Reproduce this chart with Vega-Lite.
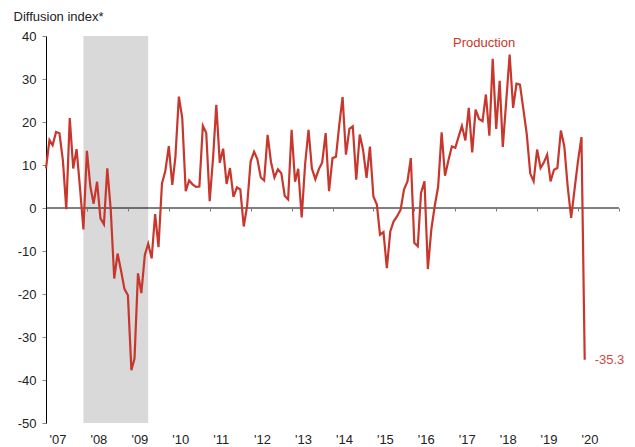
{
  "$schema": "https://vega.github.io/schema/vega-lite/v6.json",
  "width": 573,
  "height": 387,
  "autosize": {"type": "none"},
  "padding": {"left": 46, "top": 36, "right": 16, "bottom": 24},
  "config": {
    "view": {"stroke": null},
    "font": "Liberation Sans",
    "locale": {"number": {"decimal": ".", "thousands": ",", "grouping": [3], "currency": ["$", ""], "minus": "-"}},
    "axis": {"labelFont": "Liberation Sans", "titleFont": "Liberation Sans"},
    "text": {"font": "Liberation Sans"}
  },
  "datasets": {
    "recession": [{"start": "2007-12-01", "end": "2009-07-01"}],
    "prod": [
      {"date": "2007-01-01", "value": 9.2}, {"date": "2007-02-01", "value": 15.8}, {"date": "2007-03-01", "value": 14.6}, {"date": "2007-04-01", "value": 17.7},
      {"date": "2007-05-01", "value": 17.4}, {"date": "2007-06-01", "value": 11.0}, {"date": "2007-07-01", "value": -0.3}, {"date": "2007-08-01", "value": 20.9},
      {"date": "2007-09-01", "value": 9.2}, {"date": "2007-10-01", "value": 13.7}, {"date": "2007-11-01", "value": 4.5}, {"date": "2007-12-01", "value": -5.0},
      {"date": "2008-01-01", "value": 13.3}, {"date": "2008-02-01", "value": 5.0}, {"date": "2008-03-01", "value": 1.0}, {"date": "2008-04-01", "value": 6.1},
      {"date": "2008-05-01", "value": -2.4}, {"date": "2008-06-01", "value": -3.8}, {"date": "2008-07-01", "value": 9.2}, {"date": "2008-08-01", "value": -0.5},
      {"date": "2008-09-01", "value": -16.4}, {"date": "2008-10-01", "value": -10.6}, {"date": "2008-11-01", "value": -14.6}, {"date": "2008-12-01", "value": -18.8},
      {"date": "2009-01-01", "value": -20.3}, {"date": "2009-02-01", "value": -37.7}, {"date": "2009-03-01", "value": -35.0}, {"date": "2009-04-01", "value": -15.2},
      {"date": "2009-05-01", "value": -19.8}, {"date": "2009-06-01", "value": -10.9}, {"date": "2009-07-01", "value": -8.3}, {"date": "2009-08-01", "value": -11.7},
      {"date": "2009-09-01", "value": -1.4}, {"date": "2009-10-01", "value": -9.1}, {"date": "2009-11-01", "value": 5.7}, {"date": "2009-12-01", "value": 8.6},
      {"date": "2010-01-01", "value": 14.4}, {"date": "2010-02-01", "value": 5.4}, {"date": "2010-03-01", "value": 11.9}, {"date": "2010-04-01", "value": 25.9},
      {"date": "2010-05-01", "value": 20.9}, {"date": "2010-06-01", "value": 3.9}, {"date": "2010-07-01", "value": 6.4}, {"date": "2010-08-01", "value": 5.5},
      {"date": "2010-09-01", "value": 4.9}, {"date": "2010-10-01", "value": 5.0}, {"date": "2010-11-01", "value": 19.1}, {"date": "2010-12-01", "value": 17.5},
      {"date": "2011-01-01", "value": 1.6}, {"date": "2011-02-01", "value": 12.0}, {"date": "2011-03-01", "value": 24.0}, {"date": "2011-04-01", "value": 10.5},
      {"date": "2011-05-01", "value": 13.8}, {"date": "2011-06-01", "value": 5.6}, {"date": "2011-07-01", "value": 9.3}, {"date": "2011-08-01", "value": 2.6},
      {"date": "2011-09-01", "value": 4.8}, {"date": "2011-10-01", "value": 4.3}, {"date": "2011-11-01", "value": -4.3}, {"date": "2011-12-01", "value": 0.5},
      {"date": "2012-01-01", "value": 10.8}, {"date": "2012-02-01", "value": 13.1}, {"date": "2012-03-01", "value": 11.4}, {"date": "2012-04-01", "value": 7.1},
      {"date": "2012-05-01", "value": 6.4}, {"date": "2012-06-01", "value": 17.0}, {"date": "2012-07-01", "value": 10.7}, {"date": "2012-08-01", "value": 7.1},
      {"date": "2012-09-01", "value": 9.0}, {"date": "2012-10-01", "value": 8.1}, {"date": "2012-11-01", "value": 2.8}, {"date": "2012-12-01", "value": 2.0},
      {"date": "2013-01-01", "value": 18.2}, {"date": "2013-02-01", "value": 6.1}, {"date": "2013-03-01", "value": 9.1}, {"date": "2013-04-01", "value": -2.2},
      {"date": "2013-05-01", "value": 10.0}, {"date": "2013-06-01", "value": 18.2}, {"date": "2013-07-01", "value": 9.2}, {"date": "2013-08-01", "value": 6.7},
      {"date": "2013-09-01", "value": 9.0}, {"date": "2013-10-01", "value": 10.6}, {"date": "2013-11-01", "value": 17.4}, {"date": "2013-12-01", "value": 3.9},
      {"date": "2014-01-01", "value": 11.6}, {"date": "2014-02-01", "value": 11.9}, {"date": "2014-03-01", "value": 19.0}, {"date": "2014-04-01", "value": 25.8},
      {"date": "2014-05-01", "value": 12.4}, {"date": "2014-06-01", "value": 18.4}, {"date": "2014-07-01", "value": 19.0}, {"date": "2014-08-01", "value": 6.6},
      {"date": "2014-09-01", "value": 17.1}, {"date": "2014-10-01", "value": 13.5}, {"date": "2014-11-01", "value": 7.0}, {"date": "2014-12-01", "value": 14.3},
      {"date": "2015-01-01", "value": 2.7}, {"date": "2015-02-01", "value": 0.8}, {"date": "2015-03-01", "value": -6.2}, {"date": "2015-04-01", "value": -5.6},
      {"date": "2015-05-01", "value": -14.0}, {"date": "2015-06-01", "value": -5.4}, {"date": "2015-07-01", "value": -3.1}, {"date": "2015-08-01", "value": -1.9},
      {"date": "2015-09-01", "value": -0.4}, {"date": "2015-10-01", "value": 4.3}, {"date": "2015-11-01", "value": 6.2}, {"date": "2015-12-01", "value": 11.6},
      {"date": "2016-01-01", "value": -8.1}, {"date": "2016-02-01", "value": -8.9}, {"date": "2016-03-01", "value": 3.5}, {"date": "2016-04-01", "value": 6.2},
      {"date": "2016-05-01", "value": -14.2}, {"date": "2016-06-01", "value": -5.0}, {"date": "2016-07-01", "value": 0.4}, {"date": "2016-08-01", "value": 5.0},
      {"date": "2016-09-01", "value": 17.6}, {"date": "2016-10-01", "value": 7.5}, {"date": "2016-11-01", "value": 11.1}, {"date": "2016-12-01", "value": 14.3},
      {"date": "2017-01-01", "value": 14.0}, {"date": "2017-02-01", "value": 16.7}, {"date": "2017-03-01", "value": 19.1}, {"date": "2017-04-01", "value": 15.7},
      {"date": "2017-05-01", "value": 23.3}, {"date": "2017-06-01", "value": 12.9}, {"date": "2017-07-01", "value": 22.9}, {"date": "2017-08-01", "value": 20.7},
      {"date": "2017-09-01", "value": 20.2}, {"date": "2017-10-01", "value": 26.4}, {"date": "2017-11-01", "value": 16.8}, {"date": "2017-12-01", "value": 34.7},
      {"date": "2018-01-01", "value": 18.4}, {"date": "2018-02-01", "value": 29.6}, {"date": "2018-03-01", "value": 14.2}, {"date": "2018-04-01", "value": 25.0},
      {"date": "2018-05-01", "value": 35.7}, {"date": "2018-06-01", "value": 23.3}, {"date": "2018-07-01", "value": 28.9}, {"date": "2018-08-01", "value": 28.7},
      {"date": "2018-09-01", "value": 22.9}, {"date": "2018-10-01", "value": 17.1}, {"date": "2018-11-01", "value": 8.0}, {"date": "2018-12-01", "value": 6.2},
      {"date": "2019-01-01", "value": 13.6}, {"date": "2019-02-01", "value": 9.3}, {"date": "2019-03-01", "value": 10.5}, {"date": "2019-04-01", "value": 12.4},
      {"date": "2019-05-01", "value": 6.2}, {"date": "2019-06-01", "value": 8.9}, {"date": "2019-07-01", "value": 9.3}, {"date": "2019-08-01", "value": 18.0},
      {"date": "2019-09-01", "value": 14.3}, {"date": "2019-10-01", "value": 5.0}, {"date": "2019-11-01", "value": -2.3}, {"date": "2019-12-01", "value": 4.3},
      {"date": "2020-01-01", "value": 10.9}, {"date": "2020-02-01", "value": 16.5}, {"date": "2020-03-01", "value": -35.3}
    ]
  },
  "layer": [
    {
      "data": {"name": "recession"},
      "mark": {"type": "rect", "color": "#d9d9d9"},
      "encoding": {
        "x": {
          "field": "start",
          "type": "temporal",
          "scale": {"domain": [{"year": 2007, "month": 1, "date": 1}, {"year": 2021, "month": 1, "date": 1}]},
          "axis": {
            "orient": "bottom",
            "title": null,
            "format": "'%y",
            "formatType": "time",
            "values": [{"year": 2007}, {"year": 2008}, {"year": 2009}, {"year": 2010}, {"year": 2011}, {"year": 2012}, {"year": 2013}, {"year": 2014}, {"year": 2015}, {"year": 2016}, {"year": 2017}, {"year": 2018}, {"year": 2019}, {"year": 2020}],
            "domain": false,
            "ticks": false,
            "tickSize": 0,
            "grid": false,
            "labelAlign": "left",
            "labelOffset": 3,
            "labelPadding": 10,
            "labelFontSize": 13,
            "labelColor": "#222222",
            "labelFlush": false,
            "labelOverlap": false,
            "labelBound": false
          }
        },
        "x2": {"field": "end"},
        "y": {
          "datum": 40,
          "type": "quantitative",
          "scale": {"domain": [-50, 40], "nice": false, "zero": false},
          "axis": {
            "title": "Diffusion index*",
            "titleAngle": 0,
            "titleAlign": "left",
            "titleBaseline": "alphabetic",
            "titleX": -33,
            "titleY": -15.5,
            "titleFontSize": 13,
            "titleFontWeight": "normal",
            "titleColor": "#222222",
            "values": [-50, -40, -30, -20, -10, 0, 10, 20, 30, 40],
            "grid": false,
            "domainColor": "#000000",
            "tickColor": "#888888",
            "tickSize": 4,
            "labelFontSize": 13,
            "labelColor": "#222222",
            "labelPadding": 6
          }
        },
        "y2": {"datum": -50}
      }
    },
    {
      "data": {"values": [{}]},
      "mark": {"type": "rule", "color": "#000000", "strokeWidth": 1},
      "encoding": {"y": {"datum": 0, "type": "quantitative"}}
    },
    {
      "data": {"name": "prod"},
      "mark": {"type": "line", "color": "#c8372d", "strokeWidth": 2.2, "strokeJoin": "miter"},
      "encoding": {
        "x": {
          "field": "date",
          "type": "temporal",
          "axis": {
            "orient": "bottom",
            "offset": -215,
            "title": null,
            "labels": false,
            "domain": false,
            "grid": false,
            "ticks": true,
            "tickSize": 3,
            "tickColor": "#777777",
            "zindex": 1,
            "values": [{"year": 2008}, {"year": 2009}, {"year": 2010}, {"year": 2011}, {"year": 2012}, {"year": 2013}, {"year": 2014}, {"year": 2015}, {"year": 2016}, {"year": 2017}, {"year": 2018}, {"year": 2019}, {"year": 2020}, {"year": 2021}]
          }
        },
        "y": {"field": "value", "type": "quantitative"}
      }
    },
    {
      "data": {"name": "prod"},
      "transform": [{"filter": {"timeUnit": "yearmonth", "field": "date", "equal": {"year": 2020, "month": 3}}}],
      "mark": {"type": "text", "align": "left", "baseline": "middle", "dx": 10, "fontSize": 13, "color": "#d9463b"},
      "encoding": {
        "x": {"field": "date", "type": "temporal", "axis": null},
        "y": {"field": "value", "type": "quantitative"},
        "text": {"field": "value", "type": "quantitative", "format": ".1f"}
      }
    },
    {
      "data": {"values": [{"label": "Production"}]},
      "mark": {"type": "text", "align": "center", "baseline": "middle", "fontSize": 13, "color": "#c8372d"},
      "encoding": {
        "x": {"datum": {"year": 2017, "month": 9, "date": 15}, "type": "temporal", "axis": null},
        "y": {"datum": 38.4, "type": "quantitative"},
        "text": {"field": "label", "type": "nominal"}
      }
    }
  ],
  "resolve": {"axis": {"x": "independent"}}
}
